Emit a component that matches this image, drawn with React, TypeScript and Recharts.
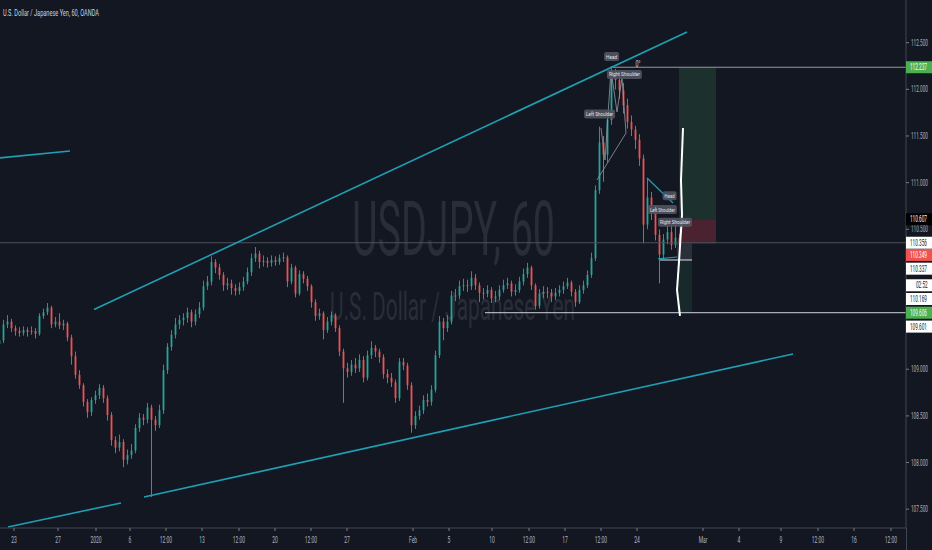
import React from 'react';
import { ComposedChart, Bar, XAxis, YAxis, ReferenceLine, ReferenceArea, ReferenceDot } from 'recharts';

// ---------- data (hourly USDJPY, sampled) ----------
const FIRST_OPEN = 109.27;
const closes = [
  109.31, 109.48, 109.51, 109.44, 109.41, 109.39, 109.42, 109.40, 109.41, 109.38,
  109.57, 109.61, 109.66, 109.48, 109.51, 109.47, 109.49, 109.34, 109.14, 108.94,
  108.83, 108.65, 108.54, 108.67, 108.72, 108.80, 108.69, 108.51, 108.24, 108.16,
  108.22, 108.03, 108.08, 108.13, 108.37, 108.48, 108.46, 108.59, 108.46, 108.40,
  108.56, 108.99, 109.24, 109.37, 109.48, 109.53, 109.55, 109.61, 109.51, 109.59,
  109.66, 109.89, 109.94, 110.15, 110.09, 110.01, 109.90, 109.92, 109.87, 109.84,
  109.88, 109.94, 110.04, 110.19, 110.24, 110.15, 110.16, 110.14, 110.17, 110.15,
  110.19, 110.20, 109.94, 110.09, 109.81, 110.02, 109.97, 109.89, 109.72, 109.57,
  109.60, 109.42, 109.51, 109.58, 109.44, 109.19, 109.01, 108.97, 109.05, 109.01,
  109.10, 108.91, 109.15, 109.23, 109.19, 109.13, 108.95, 108.91, 108.86, 108.69,
  109.08, 109.04, 108.83, 108.40, 108.50, 108.56, 108.67, 108.65, 108.78, 109.15,
  109.51, 109.44, 109.51, 109.79, 109.79, 109.89, 109.90, 109.89, 109.98, 109.90,
  109.82, 109.81, 109.85, 109.76, 109.78, 109.85, 109.90, 109.92, 109.83, 109.85,
  109.94, 110.02, 110.09, 109.90, 109.68, 109.81, 109.83, 109.82, 109.78, 109.82,
  109.85, 109.89, 109.93, 109.83, 109.72, 109.85, 109.90, 110.01, 110.19, 110.92,
  111.43, 111.30, 111.67, 112.19, 112.10, 111.99, 111.83, 111.65, 111.57, 111.46,
  111.26, 110.55, 110.84, 110.69, 110.44, 110.23, 110.39, 110.47, 110.33, 110.41,
  110.34,
];
const highs = [
  109.36, 109.53, 109.58, 109.54, 109.47, 109.45, 109.46, 109.45, 109.46, 109.44,
  109.60, 109.65, 109.71, 109.68, 109.56, 109.60, 109.53, 109.51, 109.37, 109.19,
  108.99, 108.85, 108.68, 108.70, 108.77, 108.84, 108.83, 108.72, 108.54, 108.28,
  108.30, 108.25, 108.14, 108.20, 108.41, 108.53, 108.52, 108.64, 108.62, 108.50,
  108.62, 109.05, 109.28, 109.42, 109.55, 109.58, 109.60, 109.66, 109.64, 109.64,
  109.72, 109.95, 110.00, 110.21, 110.18, 110.13, 110.04, 109.98, 109.96, 109.91,
  109.93, 109.99, 110.09, 110.24, 110.31, 110.27, 110.22, 110.20, 110.22, 110.21,
  110.23, 110.25, 110.22, 110.13, 110.11, 110.06, 110.05, 110.00, 109.91, 109.75,
  109.65, 109.62, 109.56, 109.62, 109.60, 109.47, 109.22, 109.07, 109.10, 109.12,
  109.16, 109.14, 109.20, 109.30, 109.26, 109.22, 109.16, 109.00, 108.96, 108.89,
  109.12, 109.12, 109.07, 108.86, 108.55, 108.61, 108.72, 108.74, 108.83, 109.20,
  109.57, 109.55, 109.58, 109.84, 109.86, 109.95, 109.97, 109.96, 110.05, 110.02,
  109.93, 109.87, 109.90, 109.88, 109.84, 109.90, 109.96, 109.98, 109.95, 109.91,
  109.99, 110.08, 110.14, 110.11, 109.92, 109.86, 109.89, 109.88, 109.86, 109.87,
  109.90, 109.94, 109.98, 109.95, 109.86, 109.90, 109.95, 110.06, 110.25, 110.97,
  111.60, 111.50, 111.73, 112.23, 112.22, 112.17, 112.07, 111.90, 111.72, 111.61,
  111.52, 111.30, 111.05, 110.90, 110.76, 110.50, 110.45, 110.56, 110.55, 110.60,
  110.45,
];
const lows = [
  109.22, 109.28, 109.44, 109.40, 109.36, 109.35, 109.36, 109.35, 109.37, 109.33,
  109.36, 109.54, 109.58, 109.44, 109.45, 109.43, 109.42, 109.30, 109.05, 108.90,
  108.79, 108.60, 108.48, 108.50, 108.63, 108.68, 108.64, 108.45, 108.18, 108.10,
  108.12, 107.95, 107.98, 108.04, 108.10, 108.33, 108.40, 108.42, 107.63, 108.34,
  108.37, 108.52, 108.95, 109.20, 109.33, 109.43, 109.47, 109.50, 109.45, 109.47,
  109.55, 109.63, 109.85, 109.90, 110.03, 109.96, 109.84, 109.85, 109.80, 109.79,
  109.80, 109.84, 109.91, 110.00, 110.15, 110.08, 110.10, 110.09, 110.10, 110.11,
  110.12, 110.15, 109.88, 109.91, 109.77, 109.79, 109.92, 109.84, 109.66, 109.52,
  109.53, 109.32, 109.39, 109.47, 109.40, 109.14, 108.64, 108.91, 108.93, 108.96,
  108.97, 108.86, 108.88, 109.11, 109.13, 109.07, 108.90, 108.85, 108.81, 108.64,
  108.66, 108.99, 108.78, 108.32, 108.36, 108.46, 108.52, 108.60, 108.61, 108.75,
  109.12, 109.31, 109.40, 109.48, 109.73, 109.75, 109.84, 109.83, 109.85, 109.85,
  109.72, 109.75, 109.77, 109.71, 109.72, 109.74, 109.82, 109.86, 109.78, 109.79,
  109.82, 109.90, 109.98, 109.85, 109.64, 109.65, 109.76, 109.76, 109.72, 109.74,
  109.78, 109.81, 109.86, 109.78, 109.67, 109.70, 109.81, 109.87, 109.98, 110.16,
  110.88, 111.01, 111.22, 111.62, 112.00, 111.90, 111.74, 111.58, 111.50, 111.36,
  111.18, 110.35, 110.50, 110.60, 110.38, 109.92, 110.18, 110.34, 110.28, 110.30,
  110.30,
];

// time axis (bar index units)
const xTickPos = [3.5, 14.5, 24, 32.5, 41.5, 50.5, 59.75, 68.75, 77.75, 86.75, 103.25, 112.25, 123, 132.25, 141.25, 150.25, 159.25, 175.75, 184.75, 195.25, 204.5, 213.5, 222.75];
const xTickLabels = ['23', '27', '2020', '6', '12:00', '13', '12:00', '20', '12:00', '27', 'Feb', '5', '10', '12:00', '17', '12:00', '24', 'Mar', '4', '9', '12:00', '16', '12:00'];

// price axis
const yTickVals = [107.5, 108, 108.5, 109, 110.5, 111, 111.5, 112, 112.5];
const badgeAt = [112.237, 110.607, 110.356, 110.225, 110.078, 109.9, 109.753, 109.606, 109.457];
const badgeText = ['112.237', '110.607', '110.356', '110.349', '110.337', '02:52', '110.169', '109.606', '109.601'];
const badgeKind = ['green', 'black', 'white', 'red', 'white', 'white', 'white', 'green', 'white'];

// drawings (x in bar index, y in price)
const channelSegs = [
  [[23.5, 109.64], [171.75, 112.615]],
  [[0, 111.265], [17.5, 111.34]],
  [[2, 107.31], [30.25, 107.567]],
  [[36, 107.63], [198.25, 109.164]],
];
const hsGraySegs = [
  [[149.25, 111.029], [156.5, 111.532]],
  [[150.25, 111.586], [151.25, 111.243]],
  [[151.25, 111.243], [152.75, 112.208]],
  [[152.75, 112.208], [154.25, 111.758]],
  [[154.25, 111.758], [155.5, 112.122]],
  [[155.5, 112.122], [156.5, 111.532]],
];
const hsTealSegs = [
  [[161.75, 111.05], [168.25, 110.782]],
  [[164.5, 110.182], [169.25, 110.203]],
];
const projPath = [[170.75, 111.586], [170.25, 111.029], [170.5, 110.654], [169.75, 110.15], [169.25, 109.85], [170, 109.571]];
const hsLabels = [
  { x: 152.9, y: 112.352, t: 'Head', w: 15 },
  { x: 156.1, y: 112.16, t: 'Right Shoulder', w: 35 },
  { x: 149.9, y: 111.736, t: 'Left Shoulder', w: 31 },
  { x: 167.4, y: 110.86, t: 'Head', w: 14 },
  { x: 165.6, y: 110.712, t: 'Left Shoulder', w: 29 },
  { x: 168.75, y: 110.575, t: 'Right Shoulder', w: 34 },
];

const X_DOMAIN = [0, 226.5];
const Y_DOMAIN = [107.2985, 112.9577];
const UP = '#26a69a';
const DOWN = '#ef5350';
const BG = '#131722';
const TEAL = '#1f9fb3';
const FONT = "Roboto, 'Noto Sans', 'DejaVu Sans', sans-serif";

const candles = closes.map((c, i) => {
  const o = i === 0 ? FIRST_OPEN : closes[i - 1];
  const h = Math.max(highs[i], o, c);
  const l = Math.min(lows[i], o, c);
  return { i, o, c, h, l, range: [l, h] };
});

const NText = ({ x, y, anchor = 'start', size = 9, fill = '#b2b5be', sx = 0.55, children }: any) => (
  <text transform={`translate(${x},${y}) scale(${sx},1)`} textAnchor={anchor} fontSize={size} fill={fill} fontFamily={FONT}>
    {children}
  </text>
);

const Candle = (props: any) => {
  const { x, y, width, height, payload } = props;
  if (x == null || y == null || !payload) return null;
  const { o, c, h, l } = payload;
  const top = Math.min(y, y + height);
  const hh = Math.abs(height);
  const k = h - l > 0 ? hh / (h - l) : 0;
  const cx = x + width / 2;
  const color = c >= o ? UP : DOWN;
  const bTop = top + (h - Math.max(o, c)) * k;
  const bH = Math.max(1, Math.abs(o - c) * k);
  return (
    <g>
      <line x1={cx} x2={cx} y1={top} y2={top + hh} stroke={color} strokeWidth={0.9} />
      <rect x={cx - 0.9} y={bTop} width={1.8} height={bH} fill={color} />
    </g>
  );
};

const XTick = (props: any) => {
  const { x, y, payload } = props;
  const idx = xTickPos.indexOf(payload.value);
  const label = idx >= 0 ? xTickLabels[idx] : '';
  return (
    <g>
      <line x1={x} x2={x} y1={y} y2={y + 3} stroke="#787b86" />
      <NText x={x} y={y + 15} anchor="middle">{label}</NText>
    </g>
  );
};

const YTick = (props: any) => {
  const { x, y, payload } = props;
  const v = payload.value;
  const bi = badgeAt.findIndex((b) => Math.abs(b - v) < 1e-6);
  if (bi >= 0) {
    const kind = badgeKind[bi];
    const bg = kind === 'green' ? '#4caf50' : kind === 'red' ? '#ef5350' : kind === 'black' ? '#000000' : '#ffffff';
    const fg = kind === 'white' ? '#131722' : '#ffffff';
    return (
      <g>
        <rect x={x} y={y - 6} width={26} height={12} fill={bg} />
        <NText x={x + (badgeText[bi] === '02:52' ? 10 : 4)} y={y + 3} fill={fg} sx={0.52}>{badgeText[bi]}</NText>
      </g>
    );
  }
  return (
    <g>
      <line x1={x} x2={x + 3} y1={y} y2={y} stroke="#787b86" />
      <NText x={x + 5} y={y + 3} sx={0.52}>{v.toFixed(3)}</NText>
    </g>
  );
};

const makeLabel = (t: string, w: number) => (p: any) => {
  const { cx, cy } = p;
  if (cx == null || cy == null) return null;
  return (
    <g>
      <rect x={cx - w / 2} y={cy - 4.5} width={w} height={9} rx={2} fill="#50535e" fillOpacity={0.92} />
      <text x={cx - w / 2 + 2} y={cy + 2} fontSize={5.5} fill="#e0e3eb" fontFamily={FONT} textLength={w - 4} lengthAdjust="spacingAndGlyphs">{t}</text>
    </g>
  );
};

const zeroLabel = (p: any) => {
  const { cx, cy } = p;
  if (cx == null || cy == null) return null;
  return <NText x={cx} y={cy + 3} anchor="middle" size={9} fill="#d1d4dc" sx={0.6}>0°</NText>;
};

const seg = (s: number[][]) => [{ x: s[0][0], y: s[0][1] }, { x: s[1][0], y: s[1][1] }];

export default function App() {
  return (
    <div style={{ position: 'fixed', left: 0, top: 0, width: 932, height: 550, background: BG, overflow: 'hidden' }}>
      <style>{'body{margin:0;background:#131722;}'}</style>
      <svg width={932} height={550} style={{ position: 'absolute', left: 0, top: 0 }}>
        <text x={352} y={255} fontSize={76} fill="#292d38" fontFamily={FONT} textLength={203} lengthAdjust="spacingAndGlyphs">USDJPY, 60</text>
        <text x={330} y={320} fontSize={38} fill="#292d38" fontFamily={FONT} textLength={245} lengthAdjust="spacingAndGlyphs">U.S. Dollar / Japanese Yen</text>
        <text x={3} y={16} fontSize={9} fill="#d1d4dc" fontFamily={FONT} textLength={96} lengthAdjust="spacingAndGlyphs">U.S. Dollar / Japanese Yen, 60, OANDA</text>
        <line x1={906.5} x2={906.5} y1={528} y2={550} stroke="#434651" />
      </svg>
      <div style={{ position: 'absolute', left: 0, top: 0 }}>
        <ComposedChart width={932} height={550} data={candles} margin={{ top: 0, right: 0, bottom: 0, left: 0 }}>
          <XAxis
            type="number"
            dataKey="i"
            domain={X_DOMAIN}
            allowDataOverflow
            ticks={xTickPos}
            interval={0}
            tick={<XTick />}
            tickLine={false}
            tickSize={0}
            tickMargin={0}
            axisLine={{ stroke: '#434651' }}
            height={22}
          />
          <YAxis
            type="number"
            orientation="right"
            domain={Y_DOMAIN}
            allowDataOverflow
            ticks={[...yTickVals, ...badgeAt]}
            interval={0}
            tick={<YTick />}
            tickLine={false}
            tickSize={0}
            tickMargin={0}
            axisLine={{ stroke: '#434651' }}
            width={26}
          />
          <ReferenceArea x1={169.75} x2={179} y1={110.607} y2={112.237} fill="#1c302d" fillOpacity={1} stroke="none" ifOverflow="visible" />
          <ReferenceArea x1={169.75} x2={179} y1={110.349} y2={110.607} fill="#4a2230" fillOpacity={1} stroke="none" ifOverflow="visible" />
          <ReferenceArea x1={169.25} x2={173} y1={110.171} y2={110.349} fill="#2b2f3a" fillOpacity={1} stroke="none" ifOverflow="visible" />
          <ReferenceArea x1={169.25} x2={173} y1={109.606} y2={110.171} fill="#17292a" fillOpacity={1} stroke="none" ifOverflow="visible" />

          <ReferenceLine y={110.356} stroke="#4c505b" strokeWidth={1} ifOverflow="visible" />
          <ReferenceLine segment={seg([[152.5, 112.237], [226.5, 112.237]])} stroke="#9598a1" strokeWidth={1} ifOverflow="visible" />
          <ReferenceLine segment={seg([[121.25, 109.606], [226.5, 109.606]])} stroke="#d1d4dc" strokeWidth={1} ifOverflow="visible" />
          <ReferenceLine segment={seg([[165, 110.171], [173, 110.171]])} stroke="#e0e3eb" strokeWidth={1} ifOverflow="visible" />

          {channelSegs.map((s, k) => (
            <ReferenceLine key={'c' + k} segment={seg(s)} stroke={TEAL} strokeWidth={1.6} ifOverflow="visible" />
          ))}

          <Bar dataKey="range" barSize={3} isAnimationActive={false} shape={<Candle />} />

          {hsGraySegs.map((s, k) => (
            <ReferenceLine key={'g' + k} segment={seg(s)} stroke="#9598a1" strokeOpacity={0.8} strokeWidth={1} ifOverflow="visible" />
          ))}
          {hsTealSegs.map((s, k) => (
            <ReferenceLine key={'t' + k} segment={seg(s)} stroke={TEAL} strokeWidth={1.2} ifOverflow="visible" />
          ))}
          {projPath.slice(1).map((p, k) => (
            <ReferenceLine key={'w' + k} segment={seg([projPath[k], p])} stroke="#ffffff" strokeWidth={2} ifOverflow="visible" />
          ))}

          {hsLabels.map((lb, k) => (
            <ReferenceDot key={'l' + k} x={lb.x} y={lb.y} r={1} ifOverflow="visible" shape={makeLabel(lb.t, lb.w)} />
          ))}
          <ReferenceDot x={159.5} y={112.272} r={1} ifOverflow="visible" shape={zeroLabel} />
        </ComposedChart>
      </div>
    </div>
  );
}
